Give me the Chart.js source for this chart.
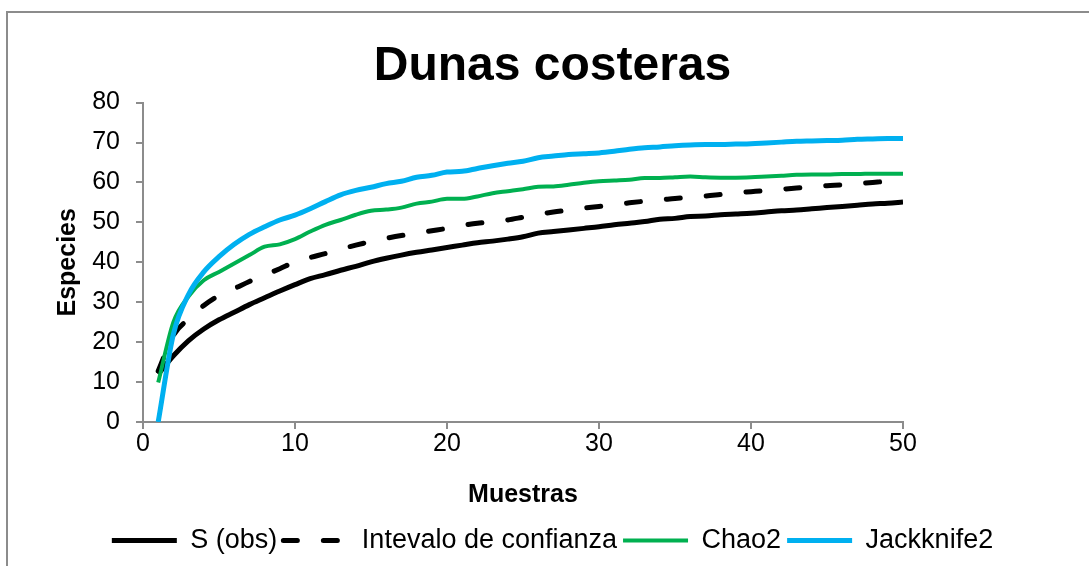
<!DOCTYPE html>
<html>
<head>
<meta charset="utf-8">
<script src="https://cdn.jsdelivr.net/npm/chart.js@4.4.1/dist/chart.umd.min.js"></script>
<style>
  html, body { margin: 0; padding: 0; background: #fff; overflow: hidden; }
  #frame { position: absolute; left: 6px; top: 11px; width: 1200px; height: 700px; border: 2px solid #8c8c8c; }
  #chart { position: absolute; left: 0; top: 0; }
</style>
</head>
<body>
<div id="frame"></div>
<canvas id="chart" width="1089" height="566"></canvas>
<script>
// muestras 1..50
const muestras = [1,2,3,4,5,6,7,8,9,10,11,12,13,14,15,16,17,18,19,20,21,22,23,24,25,
  26,27,28,29,30,31,32,33,34,35,36,37,38,39,40,41,42,43,44,45,46,47,48,49,50];

const sObs = [12,16.6,20.4,23.3,25.6,27.5,29.4,31.1,32.8,34.4,35.9,36.9,38,39,40.1,41,41.8,42.5,43.1,43.7,
  44.3,44.9,45.3,45.8,46.4,47.3,47.7,48.1,48.5,48.9,49.4,49.8,50.2,50.8,51,51.5,51.6,51.9,52.1,52.3,
  52.6,52.9,53.1,53.4,53.7,54,54.3,54.6,54.8,55.1];

const intervalo = [12.8,21.7,25.8,29.2,31.7,33.4,35.2,36.8,38.4,40.1,41.2,42.2,43.3,44.3,45.2,46,46.7,47.3,47.9,48.5,
  49.2,49.8,50.2,50.6,51.3,52,52.6,53.1,53.6,54,54.4,54.9,55.3,55.6,56,56.3,56.6,57,57.4,57.7,
  58,58.3,58.6,58.9,59.2,59.4,59.7,60,60.3,60.5];

const chao2 = [9.9,25,31.5,35.5,37.6,39.7,41.8,43.9,44.5,45.8,47.7,49.4,50.6,51.9,52.9,53.2,53.7,54.7,55.2,55.9,
  55.9,56.5,57.3,57.8,58.3,58.9,59,59.4,59.9,60.3,60.5,60.7,61.1,61.1,61.3,61.5,61.3,61.2,61.2,61.3,
  61.5,61.7,61.9,62,62,62.1,62.1,62.2,62.2,62.2];

const jackknife2 = [0,22,32,37.6,41.4,44.5,47,48.9,50.6,51.8,53.4,55.2,56.9,58,58.8,59.7,60.3,61.3,61.8,62.6,
  62.8,63.5,64.2,64.8,65.3,66.2,66.6,67,67.2,67.4,67.8,68.3,68.7,68.9,69.2,69.4,69.5,69.5,69.6,69.7,
  69.9,70.1,70.3,70.4,70.5,70.6,70.8,70.9,71,71];

const xTicks = [0, 10, 20, 30, 40, 50];
const yTicks = [0, 10, 20, 30, 40, 50, 60, 70, 80];

const pts = (arr) => arr.map((v, i) => ({ x: muestras[i], y: v }));
const axisGray = '#8c8c8c';

Chart.defaults.font.family = '"Liberation Sans", Arial, sans-serif';
Chart.defaults.color = '#000';

new Chart(document.getElementById('chart'), {
  type: 'line',
  data: {
    datasets: [
      { label: 'S (obs)', data: pts(sObs), borderColor: '#000', backgroundColor: '#000',
        borderWidth: 5, order: 2 },
      { label: 'Intevalo de confianza', data: pts(intervalo), borderColor: '#000', backgroundColor: '#000',
        borderWidth: 5, borderDash: [14, 26], borderCapStyle: 'round', order: 3 },
      { label: 'Chao2', data: pts(chao2), borderColor: '#00b050', backgroundColor: '#00b050',
        borderWidth: 4, order: 1 },
      { label: 'Jackknife2', data: pts(jackknife2), borderColor: '#00b0f0', backgroundColor: '#00b0f0',
        borderWidth: 5, order: 0 }
    ]
  },
  options: {
    responsive: false,
    animation: false,
    elements: { point: { radius: 0 }, line: { tension: 0, cubicInterpolationMode: 'monotone', fill: false } },
    layout: { padding: { left: 16, right: 0, top: 0, bottom: 2 } },
    plugins: {
      title: {
        display: true, text: 'Dunas costeras', color: '#000',
        font: { size: 48, weight: 'bold' }, padding: { top: 38, bottom: 7 }
      },
      legend: {
        position: 'bottom',
        labels: {
          usePointStyle: true, pointStyle: 'line', pointStyleWidth: 65,
          font: { size: 27 }, padding: 6, color: '#000',
          sort: (a, b) => a.datasetIndex - b.datasetIndex,
          generateLabels: (chart) => {
            const items = Chart.defaults.plugins.legend.labels.generateLabels(chart);
            items.forEach((it) => {
              const ds = chart.data.datasets[it.datasetIndex];
              it.lineDash = ds.borderDash || [];
              it.lineCap = ds.borderCapStyle || 'butt';
              it.strokeStyle = ds.borderColor;
              it.lineWidth = ds.borderWidth;
            });
            return items;
          }
        }
      },
      tooltip: { enabled: false }
    },
    scales: {
      x: {
        type: 'linear', min: 0, max: 50,
        afterBuildTicks: (s) => { s.ticks = xTicks.map(v => ({ value: v })); },
        afterFit: (s) => { s.height = 99; },
        border: { color: axisGray, width: 2 },
        grid: { drawOnChartArea: false, color: axisGray, tickLength: 7, lineWidth: 2 },
        ticks: { font: { size: 25 }, padding: 0, color: '#000', maxRotation: 0 },
        title: { display: true, text: 'Muestras', font: { size: 25, weight: 'bold' }, color: '#000',
          padding: { top: 0, bottom: 11 } }
      },
      y: {
        min: 0, max: 80,
        afterBuildTicks: (s) => { s.ticks = yTicks.map(v => ({ value: v })); },
        afterFit: (s) => { s.width = 127; },
        border: { color: axisGray, width: 2 },
        grid: { drawOnChartArea: false, color: axisGray, tickLength: 7, lineWidth: 2 },
        ticks: { font: { size: 25 }, padding: 16, color: '#000' },
        title: { display: true, text: 'Especies', font: { size: 25, weight: 'bold' }, color: '#000',
          padding: { top: 37, bottom: 0 } }
      },
      // empty right-hand spacer so the plot ends at x = 50 like the original
      spacer: {
        position: 'right', min: 0, max: 80,
        afterFit: (s) => { s.width = 186; },
        border: { display: false },
        grid: { display: false },
        ticks: { display: false }
      }
    }
  }
});
</script>
</body>
</html>
